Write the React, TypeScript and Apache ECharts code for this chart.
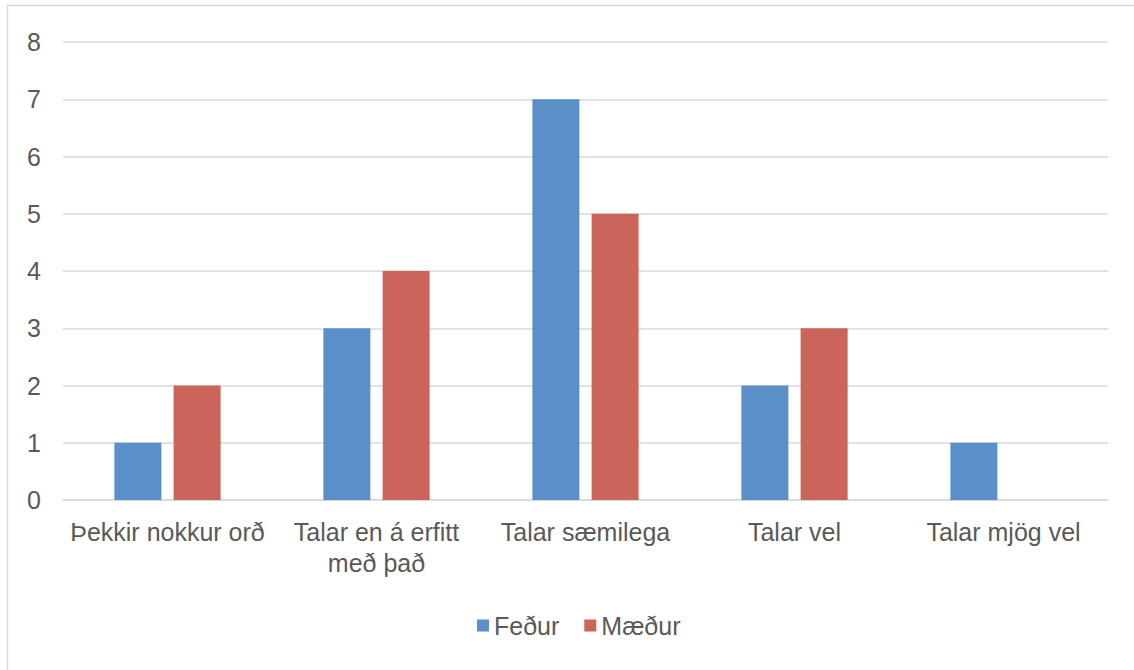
import React, { useEffect, useRef } from "react";
import * as echarts from "echarts";

const categories = [
  "Þekkir nokkur orð",
  "Talar en á erfitt\nmeð það",
  "Talar sæmilega",
  "Talar vel",
  "Talar mjög vel",
];
const fathers = [1, 3, 7, 2, 1];
const mothers = [2, 4, 5, 3, 0];
const seriesNames = ["Feður", "Mæður"];
const yTicks = { min: 0, max: 8, interval: 1 };

export default function App() {
  const ref = useRef<HTMLDivElement>(null);
  useEffect(() => {
    const chart = echarts.init(ref.current!, null, { renderer: "svg" });
    const font = "'Liberation Sans', Arial, sans-serif";
    chart.setOption({
      animation: false,
      backgroundColor: "#ffffff",
      textStyle: { fontFamily: font },
      graphic: [
        { type: "line", shape: { x1: 7, y1: 5.5, x2: 1134, y2: 5.5 }, style: { stroke: "#d9d9d9", lineWidth: 1.5 } },
        { type: "line", shape: { x1: 7.5, y1: 5, x2: 7.5, y2: 670 }, style: { stroke: "#d9d9d9", lineWidth: 1.5 } },
      ],
      grid: { left: 63, right: 26, top: 42, bottom: 170, containLabel: false },
      legend: {
        left: 477,
        top: 613,
        padding: 0,
        itemWidth: 12,
        itemHeight: 12,
        itemGap: 25,
        icon: "rect",
        textStyle: { fontSize: 25, color: "#595959", fontFamily: font },
        data: seriesNames,
      },
      xAxis: {
        type: "category",
        data: categories,
        axisLine: { show: true, lineStyle: { color: "#d9d9d9", width: 1.5 } },
        axisTick: { show: false },
        axisLabel: {
          fontSize: 25,
          color: "#595959",
          margin: 16,
          lineHeight: 31,
          interval: 0,
          fontFamily: font,
        },
      },
      yAxis: {
        type: "value",
        min: yTicks.min,
        max: yTicks.max,
        interval: yTicks.interval,
        axisLine: { show: false },
        axisTick: { show: false },
        splitLine: { lineStyle: { color: "#d9d9d9", width: 1.5 } },
        axisLabel: { fontSize: 25, color: "#595959", margin: 22, fontFamily: font },
      },
      series: [
        {
          name: seriesNames[0],
          type: "bar",
          data: fathers,
          barWidth: 47,
          barGap: "26%",
          itemStyle: { color: "#5B8FC7" },
        },
        {
          name: seriesNames[1],
          type: "bar",
          data: mothers,
          barWidth: 47,
          barGap: "26%",
          itemStyle: { color: "#CB6459" },
        },
      ],
    });
    return () => chart.dispose();
  }, []);
  return (
    <div
      ref={ref}
      style={{ position: "fixed", left: 0, top: 0, width: 1134, height: 670 }}
    />
  );
}
